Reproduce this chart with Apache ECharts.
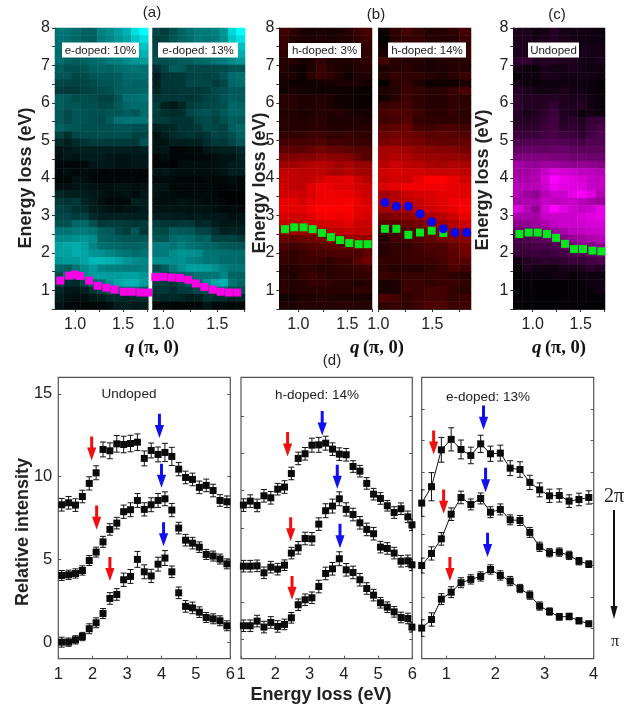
<!DOCTYPE html>
<html>
<head>
<meta charset="utf-8">
<style>html,body{margin:0;padding:0;background:#fff}#c{width:641px;height:706px}</style>
<script src="https://cdn.jsdelivr.net/npm/echarts@6/dist/echarts.min.js"></script>
</head>
<body>
<div id="c"></div>
<script>
// ---------- heat maps: intensity (0-100), top row = 8 eV, bottom row = 0.5 eV ----------
const heatA1 = [
[50,50,46,42,42,55,58,65,72,88,100],[48,48,44,40,40,52,56,62,68,80,88],[48,46,44,42,44,52,56,60,66,72,78],
[46,44,42,44,46,50,54,58,62,68,72],[46,42,40,42,46,48,52,54,58,62,64],[40,34,34,36,42,44,42,46,48,50,48],
[36,36,30,32,36,38,38,40,46,46,48],[30,30,28,30,32,36,36,40,44,42,44],[26,24,24,28,30,32,34,40,42,42,44],
[40,38,32,34,32,28,28,36,48,48,50],[40,36,36,34,34,30,32,38,44,46,46],[38,32,36,36,34,34,36,36,40,36,46],
[38,32,36,36,34,32,40,48,50,50,50],[42,38,36,34,34,34,34,36,36,34,34],[28,20,30,32,32,34,34,34,34,28,30],
[18,12,18,22,26,26,26,26,26,24,36],[8,10,12,14,14,14,14,12,12,12,14],[6,10,8,12,12,12,10,8,8,10,10],
[4,4,2,4,10,10,10,8,8,10,10],[4,6,4,6,4,2,2,2,2,2,2],[2,2,8,6,3,3,3,3,3,2,3],[6,6,8,10,8,6,6,8,8,6,8],
[16,14,12,12,10,8,6,6,8,4,10],[24,22,24,16,12,6,4,4,4,14,12],[28,26,20,20,12,10,8,6,8,8,12],
[30,30,26,28,18,14,14,14,14,14,14],[34,34,44,44,34,24,26,26,24,22,26],[50,50,52,52,50,40,38,30,26,36,24],
[58,58,60,62,58,42,40,38,36,36,36],[66,68,70,66,56,48,46,44,42,42,44],[66,66,70,68,62,60,56,52,50,46,50],
[62,64,64,68,74,74,72,68,62,58,56],[44,40,50,58,64,56,54,54,52,52,54],[32,50,56,60,64,66,64,64,66,66,62],
[30,20,18,30,44,50,60,68,72,72,64],[16,10,10,14,22,30,38,44,48,50,40],[12,8,6,6,10,12,18,18,16,18,20],
[8,4,3,3,3,4,6,12,14,10,12]];
const heatA2 = [
[30,26,34,42,48,52,52,54,62,86,100],[26,28,36,42,46,52,50,52,60,80,90],[30,30,38,40,46,50,52,52,56,68,78],
[30,32,36,38,44,46,48,50,54,62,70],[34,34,36,40,40,44,46,50,52,58,62],[20,28,40,38,30,30,30,30,32,36,36],
[12,22,24,24,28,30,28,30,36,46,48],[14,24,24,24,30,30,30,26,30,44,46],[16,22,22,24,24,24,26,32,34,38,38],
[22,24,22,24,22,24,28,30,36,40,38],[26,14,10,16,26,28,30,32,34,44,42],[26,20,18,20,30,34,36,32,38,44,44],
[26,26,22,22,22,30,32,28,34,40,38],[14,16,16,22,22,24,32,30,28,40,44],[6,12,18,20,22,20,22,30,28,34,42],
[8,8,14,12,14,14,20,24,24,30,36],[8,10,2,2,4,4,10,12,14,14,18],[2,6,2,3,2,3,3,6,8,8,14],
[2,2,0,6,6,6,6,6,8,12,12],[8,10,6,6,6,6,6,6,8,14,12],[4,4,4,3,2,2,3,3,4,6,3],[8,8,3,4,4,4,4,2,2,3,2],
[8,6,5,4,4,4,4,3,1,1,1],[6,6,6,8,6,6,4,5,3,0,1],[8,8,8,8,8,8,8,6,4,5,3],[12,14,12,12,10,12,10,10,10,6,8],
[26,22,22,24,24,16,18,12,10,10,10],[32,30,40,38,36,30,28,20,14,16,14],[36,36,46,48,46,40,42,28,28,28,24],
[52,52,50,54,50,46,44,42,38,36,36],[52,52,58,62,60,58,50,48,48,46,46],[60,60,58,60,56,54,50,50,46,46,44],
[32,40,52,60,66,66,64,60,54,50,50],[46,30,40,42,44,48,50,50,56,44,42],[26,26,22,30,38,44,60,68,72,50,44],
[22,24,20,26,26,30,34,48,46,34,34],[18,16,18,16,12,14,22,20,20,16,18],[3,3,3,3,3,4,10,4,6,3,4]];
const heatB1 = [
[24,18,10,8,10,8,10,14,22,28],[22,14,10,10,12,10,12,14,20,24],[22,14,10,12,12,12,14,16,18,20],
[18,14,12,12,14,14,14,14,18,18],[14,16,8,12,20,12,12,12,14,18],[14,8,6,12,22,16,12,8,14,14],
[12,12,6,16,22,20,12,6,12,12],[8,6,6,6,8,8,10,10,10,8],[8,10,8,8,6,6,6,6,4,4],[16,14,12,12,14,10,6,6,4,4],
[14,16,12,12,14,10,8,6,6,4],[12,14,10,12,14,14,14,10,8,8],[14,14,12,14,16,12,12,12,14,10],
[16,14,14,16,16,14,14,14,14,16],[20,20,20,24,24,20,20,22,18,18],[26,28,28,28,30,26,26,24,22,22],
[36,36,34,40,46,40,38,36,32,32],[50,50,52,52,56,54,54,50,40,32],[62,62,66,70,72,68,60,66,58,58],
[76,76,72,74,74,66,64,70,64,64],[78,76,74,76,82,88,88,90,80,70],[80,74,74,88,94,92,88,88,82,78],
[82,82,80,86,94,94,92,92,86,78],[90,90,84,90,94,94,94,98,90,84],[92,90,88,96,100,100,98,100,90,88],
[84,82,82,88,94,96,92,96,88,84],[78,74,76,78,82,84,86,90,80,78],[60,62,60,62,66,70,74,78,76,74],
[40,38,42,44,48,52,56,60,60,58],[30,24,28,32,34,38,38,42,44,42],[24,20,22,28,28,28,30,30,30,36],
[20,18,22,24,22,18,24,24,34,44],[14,14,18,18,14,16,18,20,22,24],[14,12,18,22,20,16,18,18,20,20],
[16,14,16,20,20,18,16,16,12,14],[16,14,14,16,16,16,16,16,18,18],[8,8,12,12,14,12,10,10,10,10],
[12,12,14,14,14,14,16,16,14,14]];
const heatB2 = [
[4,18,28,20,12,14,18,26],[2,16,20,20,14,14,14,22],[6,16,18,18,14,14,14,20],[10,16,16,18,14,14,18,22],
[26,16,14,14,10,14,16,16],[10,14,16,12,10,12,14,14],[14,20,18,18,14,12,16,22],[2,16,20,12,6,6,6,12],
[12,14,22,20,14,16,22,28],[8,16,24,18,14,14,20,16],[22,24,26,18,14,14,18,18],[28,30,30,24,16,16,20,16],
[24,26,32,20,18,18,18,18],[34,38,40,26,24,28,30,26],[42,44,44,40,34,36,34,32],[48,50,48,46,40,38,38,40],
[64,66,62,56,54,52,50,46],[66,70,68,62,60,60,58,56],[72,80,74,72,66,64,68,66],[82,86,82,82,78,78,78,74],
[78,82,80,90,100,100,92,82],[86,90,94,94,94,94,90,88],[64,70,78,84,86,90,90,88],[70,72,74,78,84,88,94,96],
[64,66,68,74,82,86,92,98],[46,50,54,60,66,72,80,92],[36,36,42,46,54,62,70,80],[26,28,30,34,40,48,58,62],
[14,26,26,32,38,46,50,52],[16,20,20,26,30,30,40,46],[14,20,22,24,28,30,36,42],[20,18,24,24,22,28,34,34],
[18,14,14,14,18,22,30,26],[22,20,22,22,22,22,18,16],[10,12,22,22,20,22,22,18],[10,10,24,22,26,26,20,16],
[30,26,18,24,26,26,20,22],[20,22,20,24,30,30,24,24]];
const heatC = [
[10,10,6,8,14,8,8,8,6,6],[10,10,8,10,14,10,8,6,6,6],[12,10,8,10,12,10,8,8,8,8],[10,10,12,12,12,12,8,10,8,8],
[18,20,12,14,14,12,12,8,8,10],[8,6,4,10,8,8,10,8,6,6],[4,6,6,10,10,8,8,8,8,6],[8,6,4,6,4,6,6,6,6,2],
[14,12,8,8,8,10,8,8,6,2],[18,12,14,14,14,12,10,10,8,4],[18,14,12,14,20,12,12,14,8,4],[16,10,12,18,24,12,10,6,8,6],
[14,14,16,20,26,14,16,14,20,22],[18,18,18,24,26,18,20,16,22,28],[24,22,22,26,28,24,24,18,26,30],
[30,32,32,32,34,32,30,28,32,32],[38,40,40,38,40,40,38,36,36,36],[48,50,50,50,48,48,44,44,42,42],
[64,60,58,62,62,58,56,58,56,52],[64,64,68,78,86,84,80,74,74,70],[66,68,70,84,100,92,88,84,78,76],
[72,70,72,80,94,88,88,86,78,76],[70,62,56,72,80,80,90,96,88,70],[66,68,68,78,74,76,78,72,66,60],
[86,72,56,84,100,88,82,76,80,90],[66,66,66,78,80,80,80,84,88,90],[56,56,62,68,76,80,80,82,84,84],
[40,42,46,54,60,66,74,76,78,80],[26,30,36,38,44,52,58,64,68,72],[24,26,28,28,32,36,46,52,50,58],
[22,22,24,22,26,28,30,32,36,42],[8,14,16,20,18,20,24,22,26,30],[2,12,8,8,6,10,10,12,18,14],[2,4,4,4,8,8,4,6,6,6],
[2,2,2,2,2,2,2,4,6,6],[2,2,2,2,2,2,2,2,4,8],[1,1,1,1,1,1,1,3,1,3],[1,1,1,1,1,1,1,1,1,1]];

// ---------- dispersion points on the maps: [q, energy] ----------
const peakA1 = [[.845,1.26],[.938,1.39],[1,1.42],[1.05,1.38],[1.145,1.26],[1.234,1.12],[1.324,1.07],[1.41,1.02],[1.507,.96],[1.59,.96],[1.68,.94],[1.76,.94]];
const peakA2 = [[.926,1.35],[1,1.36],[1.077,1.34],[1.154,1.33],[1.231,1.28],[1.302,1.18],[1.379,1.09],[1.457,1.02],[1.531,.96],[1.608,.94],[1.685,.94]];
const peakB1 = [[.864,2.63],[.959,2.68],[1.054,2.68],[1.146,2.63],[1.241,2.53],[1.333,2.42],[1.425,2.34],[1.52,2.26],[1.616,2.23],[1.707,2.23]];
const peakB2 = [[1.062,2.64],[1.167,2.64],[1.278,2.48],[1.386,2.54],[1.494,2.59],[1.602,2.53]];
const peakB2High = [[1.062,3.34],[1.167,3.24],[1.278,3.24],[1.386,3.04],[1.494,2.83],[1.602,2.64],[1.71,2.54],[1.818,2.54]];
const peakC = [[.861,2.5],[.958,2.54],[1.052,2.54],[1.149,2.5],[1.243,2.4],[1.337,2.24],[1.431,2.1],[1.524,2.1],[1.622,2.06],[1.715,2.04]];

// ---------- spectra ----------
const energyD1 = [1.1,1.3,1.5,1.7,1.9,2.1,2.3,2.5,2.7,2.9,3.1,3.3,3.5,3.7,3.9,4.1,4.3,4.5,4.7,4.9,5.1,5.3,5.5,5.7,5.9];
const d1Top = [8.3,8.42,8.28,8.8,9.59,10.23,11.64,11.56,11.98,11.94,12,12.08,11.1,11.58,11.34,11.46,11.22,10.45,9.95,9.83,9.35,9.47,9.16,8.56,8.48];
const d1TopErr = [.38,.38,.38,.38,.4,.42,.45,.48,.5,.5,.5,.5,.45,.45,.45,.55,.55,.4,.38,.38,.38,.38,.38,.35,.35];
const d1Mid = [4.03,4.07,4.15,4.33,4.93,5.44,6.06,6.81,7.19,7.88,8,8.56,8.02,8.3,8.56,8.66,7.98,6.89,6.16,5.98,5.74,5.3,5.2,5.02,4.73];
const d1MidErr = [.3,.28,.28,.28,.3,.3,.33,.35,.35,.4,.42,.42,.4,.42,.42,.42,.4,.35,.35,.35,.32,.3,.3,.3,.3];
const d1Low = [0,0,.14,.34,.81,1.17,1.73,2.64,2.88,3.77,3.97,5,4.25,4,4.71,5.08,4.25,2.98,2.16,2.07,1.81,1.49,1.41,1.29,.99];
const d1LowErr = [.3,.25,.25,.25,.3,.3,.3,.35,.35,.4,.42,.48,.42,.4,.42,.45,.35,.35,.35,.35,.32,.3,.3,.3,.3];

const energyD2 = [1.07,1.27,1.47,1.67,1.87,2.07,2.27,2.47,2.67,2.87,3.07,3.27,3.47,3.67,3.87,4.07,4.27,4.47,4.67,4.87,5.07,5.27,5.47,5.67,5.87,5.99];
const d2Top = [8.28,8.52,8.26,8.84,8.72,9.24,9.37,10.19,11.1,11.38,11.9,11.92,12.02,11.66,11.36,11.32,10.61,10.33,9.59,8.94,8.68,8.24,7.83,8.06,7.57,7.09];
const d2TopErr = [.38,.38,.38,.38,.38,.35,.38,.38,.38,.38,.42,.45,.42,.38,.38,.38,.35,.35,.35,.35,.35,.32,.35,.35,.35,.35];
const d2Mid = [4.59,4.59,4.61,4.19,4.53,4.41,4.65,5.38,5.7,6.26,6.24,7.13,7.94,8.22,8.66,8.02,7.71,7.21,6.81,6.55,5.74,5.66,5.38,4.89,4.91,4.67];
const d2MidErr = [.35,.35,.35,.35,.35,.35,.32,.35,.38,.38,.38,.38,.42,.42,.42,.4,.38,.38,.38,.38,.35,.35,.35,.35,.35,.35];
const d2Low = [.99,.99,1.27,.91,1.19,.95,1.07,1.47,2.26,2.56,2.68,3.36,4.15,4.43,5.04,4.37,4.21,3.77,3.24,2.84,2.38,2.11,1.83,1.49,1.43,.91];
const d2LowErr = [.35,.35,.35,.35,.35,.35,.32,.32,.35,.35,.35,.38,.38,.38,.42,.38,.38,.38,.35,.35,.32,.32,.32,.32,.32,.3];

const energyD3 = [.5,.7,.9,1.1,1.3,1.5,1.7,1.9,2.1,2.3,2.5,2.7,2.9,3.1,3.3,3.5,3.7,3.9];
const d3Top = [8.4,9.39,11.62,12.25,11.64,11.28,11.98,11.38,11.42,10.51,10.43,9.65,9.2,8.84,8.86,8.52,8.62,8.74];
const d3TopErr = [.8,.85,.75,.7,.57,.5,.52,.46,.48,.45,.47,.43,.42,.4,.4,.38,.38,.4];
const d3Mid = [4.63,5.36,6.24,7.73,8.74,8.32,8.68,7.85,8.02,7.39,7.35,6.63,5.76,5.4,5.44,5.24,4.89,4.71];
const d3MidErr = [.45,.4,.38,.38,.38,.33,.33,.33,.33,.3,.3,.3,.28,.25,.25,.25,.22,.2];
const d3Low = [.85,1.37,2.6,3.02,3.59,3.79,3.97,4.39,4.03,3.69,3.24,2.84,2.18,1.85,1.53,1.55,1.29,1.11];
const d3LowErr = [.5,.4,.33,.33,.3,.28,.28,.28,.28,.28,.25,.25,.25,.22,.2,.2,.18,.15];

// ---------- arrows: [energy, value at tail, value at head] ----------
const redD1 = [[1.97,12.43,10.98],[2.115,8.26,6.79],[2.5,5.14,3.69]];
const blueD1 = [[3.94,13.8,12.33],[4,10.78,9.33],[4.06,7.25,5.8]];
const redD2 = [[2.36,12.69,11.22],[2.45,7.55,6.1],[2.49,3.99,2.56]];
const blueD2 = [[3.37,13.96,12.49],[3.81,10.72,9.26],[3.89,7.15,5.68]];
const redD3 = [[.743,12.79,11.34],[.946,9.22,7.75],[1.074,5.14,3.69]];
const blueD3 = [[1.758,14.3,12.83],[1.8,10.53,9.06],[1.84,6.61,5.14]];

// ---------- tick values ----------
const mapEnergyLabels = [1,2,3,4,5,6,7,8];
const mapEnergyTicks = [.5,1,1.5,2,2.5,3,3.5,4,4.5,5,5.5,6,6.5,7,7.5,8];
const qLabels = [1,1.5];
const qTicks = [1,1.25,1.5,1.75];
const intensityLabels = [0,5,10,15];
const d2IntensityTicks = [.2,2.42,4.63,6.9,9.16,11.4,13.66];
const d3IntensityTicks = [.85,2.73,4.62,6.5,8.39,10.28,12.17,14.06];

const SANS = '"Liberation Sans", Arial, sans-serif';
const TXT = '#222';
const chart = echarts.init(document.getElementById('c'), null, {renderer:'canvas'});
const grids=[], xAxes=[], yAxes=[], series=[];
const vmIdx = {cyan:[], red:[], magenta:[]};

function addMap(cfg){
  const g = grids.length;
  grids.push({left:cfg.left, top:28, width:cfg.width, height:281, show:false});
  const xv = xAxes.length;
  xAxes.push({gridIndex:g,type:'value',min:cfg.qMin,max:cfg.qMax,position:'bottom',splitLine:{show:false},
    axisLine:{show:true,onZero:false,lineStyle:{color:'#333',width:1}},
    axisTick:{show:true,length:3,customValues:qTicks,lineStyle:{color:'#333'}},
    axisLabel:{show:true,customValues:qLabels,formatter:v=>(+v).toFixed(1),fontFamily:SANS,fontSize:16,color:TXT,margin:8}});
  const xc = xAxes.length;
  xAxes.push({gridIndex:g,type:'category',show:false,position:'top',data:cfg.data[0].map((_,i)=>i)});
  const yv = yAxes.length;
  yAxes.push({gridIndex:g,type:'value',min:.5,max:8,position:'left',show:!!cfg.yAxis,splitLine:{show:false},
    axisLine:{show:!!cfg.yAxis,onZero:false,lineStyle:{color:'#333',width:1}},
    axisTick:{show:true,length:3,customValues:mapEnergyTicks,lineStyle:{color:'#333'}},
    axisLabel:{show:true,customValues:mapEnergyLabels,fontFamily:SANS,fontSize:16,color:TXT,margin:5}});
  const yc = yAxes.length;
  yAxes.push({gridIndex:g,type:'category',show:false,position:'right',data:cfg.data.map((_,i)=>i)});
  const n = cfg.data.length, cells=[];
  cfg.data.forEach((row,r)=>row.forEach((v,c)=>cells.push([c,n-1-r,v])));
  vmIdx[cfg.cmap].push(series.length);
  series.push({type:'heatmap',xAxisIndex:xc,yAxisIndex:yc,data:cells,silent:true,z:1,emphasis:{disabled:true},progressive:0});
  cfg.peaks.forEach(p=>series.push({type:'scatter',xAxisIndex:xv,yAxisIndex:yv,data:p.data,symbol:p.symbol,symbolSize:p.size,
    itemStyle:{color:p.color,opacity:1},silent:true,z:3}));
}
function addSpectrum(cfg){
  const g = grids.length;
  grids.push({left:cfg.left,top:377.3,width:cfg.width,height:281.4,show:true,borderColor:'#555',borderWidth:1.2,backgroundColor:'transparent'});
  const xv = xAxes.length;
  xAxes.push({gridIndex:g,type:'value',min:cfg.xMin,max:cfg.xMax,position:'bottom',splitLine:{show:false},axisLine:{show:false,onZero:false},
    axisTick:{show:true,inside:true,length:3,customValues:cfg.xTicks,lineStyle:{color:'#555'}},
    axisLabel:{show:true,customValues:cfg.xLabels,fontFamily:SANS,fontSize:16.5,color:TXT,margin:7}});
  const yl = yAxes.length;
  yAxes.push({gridIndex:g,type:'value',min:-1,max:16,position:'left',splitLine:{show:false},axisLine:{show:false,onZero:false},
    axisTick:{show:true,inside:true,length:3,customValues:cfg.yTicks,lineStyle:{color:'#555'}},
    axisLabel:{show:!!cfg.yLabels,customValues:intensityLabels,fontFamily:SANS,fontSize:16.5,color:TXT,margin:6}});
  yAxes.push({gridIndex:g,type:'value',min:-1,max:16,position:'right',splitLine:{show:false},axisLine:{show:false,onZero:false},
    axisTick:{show:true,inside:true,length:3,customValues:cfg.yTicks,lineStyle:{color:'#555'}},axisLabel:{show:false}});
  cfg.curves.forEach(cv=>{
    const pts = cfg.energy.map((e,i)=>[e,cv.v[i],cv.err[i]]);
    series.push({type:'custom',xAxisIndex:xv,yAxisIndex:yl,data:pts,clip:true,silent:true,z:2,
      encode:{x:0,y:1},
      renderItem:(p,api)=>{
        const x=api.value(0),y=api.value(1),e=api.value(2);
        const a=api.coord([x,y+e]),b=api.coord([x,y-e]);
        const st={stroke:'#111',lineWidth:1};
        return {type:'group',children:[
          {type:'line',shape:{x1:a[0],y1:a[1],x2:b[0],y2:b[1]},style:st},
          {type:'line',shape:{x1:a[0]-3,y1:a[1],x2:a[0]+3,y2:a[1]},style:st},
          {type:'line',shape:{x1:b[0]-3,y1:b[1],x2:b[0]+3,y2:b[1]},style:st}]};
      }});
    series.push({type:cfg.joined?'line':'scatter',xAxisIndex:xv,yAxisIndex:yl,data:pts.map(q=>[q[0],q[1]]),symbol:'rect',
      symbolSize:7,showSymbol:true,showAllSymbols:true,itemStyle:{color:'#0a0a0a',opacity:1},lineStyle:{color:'#111',width:1},silent:true,z:3,clip:true,animation:false});
  });
  [[cfg.red,'#f01010'],[cfg.blue,'#1010f0']].forEach(([arr,color])=>series.push({
    type:'custom',xAxisIndex:xv,yAxisIndex:yl,data:arr,silent:true,z:4,encode:{x:0,y:[1,2]},
    renderItem:(p,api)=>{
      const a=api.coord([api.value(0),api.value(1)]),b=api.coord([api.value(0),api.value(2)]);
      const h=b[1]-13,s=1.5,w=4.6;
      return {type:'polygon',shape:{points:[[a[0]-s,a[1]],[a[0]+s,a[1]],[a[0]+s,h],[a[0]+w,h],[a[0],b[1]],[a[0]-w,h],[a[0]-s,h]]},style:{fill:color}};
    }}));
}

const MAGENTA='#ff00e6', GREEN='#00e81c', BLUE='#0808f0';
addMap({left:55,width:93.3,qMin:.79,qMax:1.763,data:heatA1,cmap:'cyan',yAxis:true,peaks:[{data:peakA1,symbol:'rect',size:8,color:MAGENTA}]});
addMap({left:152.5,width:92.5,qMin:.9,qMax:1.757,data:heatA2,cmap:'cyan',peaks:[{data:peakA2,symbol:'rect',size:8,color:MAGENTA}]});
addMap({left:279.3,width:92.7,qMin:.806,qMax:1.752,data:heatB1,cmap:'red',yAxis:true,peaks:[{data:peakB1,symbol:'rect',size:8,color:GREEN}]});
addMap({left:378.3,width:92.7,qMin:1,qMax:1.858,data:heatB2,cmap:'red',peaks:[{data:peakB2,symbol:'rect',size:8,color:GREEN},{data:peakB2High,symbol:'circle',size:9,color:BLUE}]});
addMap({left:513.3,width:91.7,qMin:.798,qMax:1.753,data:heatC,cmap:'magenta',yAxis:true,peaks:[{data:peakC,symbol:'rect',size:8,color:GREEN}]});

addSpectrum({left:58.3,width:172,energy:energyD1,xMin:1,xMax:6,xLabels:[1,2,3,4,5,6],xTicks:[1,2,3,4,5,6],yLabels:true,yTicks:intensityLabels,
  curves:[{v:d1Top,err:d1TopErr},{v:d1Mid,err:d1MidErr},{v:d1Low,err:d1LowErr}],red:redD1,blue:blueD1});
addSpectrum({left:241,width:171.3,energy:energyD2,xMin:1,xMax:6,xLabels:[1,2,3,4,5,6],xTicks:[1,2,3,4,5,6],yTicks:d2IntensityTicks,
  curves:[{v:d2Top,err:d2TopErr},{v:d2Mid,err:d2MidErr},{v:d2Low,err:d2LowErr}],red:redD2,blue:blueD2});
addSpectrum({left:421.7,width:172,energy:energyD3,xMin:.5,xMax:4,xLabels:[1,2,3,4],xTicks:[1,2,3,4],yTicks:d3IntensityTicks,joined:true,
  curves:[{v:d3Top,err:d3TopErr},{v:d3Mid,err:d3MidErr},{v:d3Low,err:d3LowErr}],red:redD3,blue:blueD3});

const txt=(text,x,y,font,extra)=>Object.assign({type:'text',x,y,z:20,silent:true,
  style:{text,font,fill:TXT,align:'center',verticalAlign:'middle'}},extra||{});
const box=(text,x,y,w)=>[
  {type:'rect',z:19,silent:true,shape:{x:x-w/2,y:y-7.5,width:w,height:15},style:{fill:'#fff'}},
  txt(text,x,y+.5,'11.5px '+SANS)];
const qName=(x)=>({type:'text',x,y:348,z:20,silent:true,style:{
  text:'{q|q} {p|(π, 0)}',fill:'#111',align:'center',verticalAlign:'middle',
  rich:{q:{font:'italic bold 19px "Liberation Serif", serif',fill:'#111'},p:{font:'bold 18.5px "Liberation Serif", serif',fill:'#111'}}}});
const BOLD='bold 18px '+SANS;
const graphics=[
  txt('(a)',152,13,'15px '+SANS),txt('(b)',376,15,'15px '+SANS),txt('(c)',557,15,'15px '+SANS),txt('(d)',332,361,'15px '+SANS),
  txt('Energy loss (eV)',26,178,BOLD,{rotation:Math.PI/2}),
  txt('Energy loss (eV)',260,183,BOLD,{rotation:Math.PI/2}),
  txt('Energy loss (eV)',483,180,BOLD,{rotation:Math.PI/2}),
  txt('Relative intensity',23,532,BOLD,{rotation:Math.PI/2}),
  txt('Energy loss (eV)',321,695,BOLD),
  qName(152),qName(377),qName(559),
  ...box('e-doped: 10%',100.5,50,77),...box('e-doped: 13%',198,50,80),...box('h-doped: 3%',324.5,50.5,73),
  ...box('h-doped: 14%',427,50,78),...box('Undoped',553.5,50,51),
  txt('Undoped',129,394,'13.5px '+SANS),txt('h-doped: 14%',317,395,'13.5px '+SANS),txt('e-doped: 13%',488,397,'13.5px '+SANS),
  txt('2π',614,497,'20px "Liberation Serif", serif'),txt('π',615,642,'16px "Liberation Serif", serif'),
  {type:'line',z:20,silent:true,shape:{x1:614,y1:510,x2:614,y2:610},style:{stroke:'#111',lineWidth:2}},
  {type:'polygon',z:20,silent:true,shape:{points:[[610.5,606],[617.5,606],[614,619]]},style:{fill:'#111'}}
];

chart.setOption({
  animation:false,backgroundColor:'#fff',
  grid:grids,xAxis:xAxes,yAxis:yAxes,series,graphic:graphics,tooltip:{show:false},
  visualMap:[
    {show:false,type:'continuous',min:0,max:100,dimension:2,seriesIndex:vmIdx.cyan,inRange:{color:['#000000','#007474','#00ffff']}},
    {show:false,type:'continuous',min:0,max:100,dimension:2,seriesIndex:vmIdx.red,inRange:{color:['#000000','#ff0000']}},
    {show:false,type:'continuous',min:0,max:100,dimension:2,seriesIndex:vmIdx.magenta,inRange:{color:['#000000','#ff00ff']}}
  ]
});
</script>
</body>
</html>
